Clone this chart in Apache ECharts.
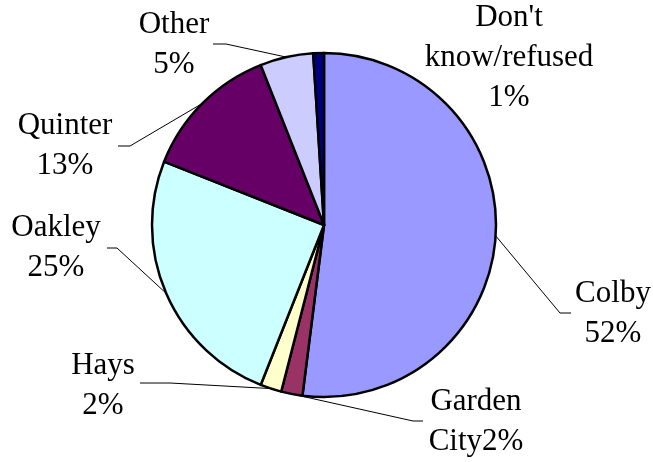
<!DOCTYPE html>
<html>
<head>
<meta charset="utf-8">
<script src="https://cdn.jsdelivr.net/npm/echarts@6/dist/echarts.min.js"></script>
<style>html,body{margin:0;padding:0;background:#fff;}#c{width:653px;height:462px;}</style>
</head>
<body>
<div id="c"></div>
<script>
var categories = ["Colby", "Garden City", "Hays", "Oakley", "Quinter", "Other", "Don't know/refused"];
var values = [52, 2, 2, 25, 13, 5, 1];
var labelLines = [["Colby"], ["Garden", "City"], ["Hays"], ["Oakley"], ["Quinter"], ["Other"], ["Don't", "know/refused"]];
var pctOnOwnLine = [true, false, true, true, true, true, true];
var colors = ["#9999FF", "#993366", "#FFFFCC", "#CCFFFF", "#660066", "#CCCCFF", "#000080"];

// label block centres and leader-line bend/end points (layout only)
var labelPos = [[613, 314], [476, 422], [103, 386], [56, 248], [65, 146], [174, 45], [509, 58]];
var linePts = [
  [[560, 313], [571, 313]],
  [[413, 421], [423, 421]],
  [[170, 383], [140, 383]],
  [[117, 248], [107, 248]],
  [[130, 146], [118, 146]],
  [[226, 44], [213, 44]],
  null
];

var serifStyle = {fontFamily: 'Liberation Serif', fontSize: 31, lineHeight: 40, color: '#000', fontWeight: 'normal', align: 'center'};

function labelText(i) {
  var lines = labelLines[i].slice();
  var pct = values[i] + '%';
  if (pctOnOwnLine[i]) lines.push(pct); else lines[lines.length - 1] += pct;
  return lines.map(function (s) { return '{s|' + s + '}'; }).join('\n');
}

var chart = echarts.init(document.getElementById('c'), null, {renderer: 'canvas'});
var data = categories.map(function (n, i) {
  return {
    name: n,
    value: values[i],
    itemStyle: {color: colors[i]},
    label: {formatter: labelText(i)},
    labelLine: {show: !!linePts[i]}
  };
});
chart.setOption({
  animation: false,
  backgroundColor: '#ffffff',
  textStyle: {fontFamily: 'Liberation Serif'},
  series: [{
    type: 'pie',
    center: [324, 225],
    radius: 172,
    startAngle: 90,
    clockwise: true,
    avoidLabelOverlap: false,
    data: data,
    itemStyle: {borderColor: '#000', borderWidth: 2.5},
    label: Object.assign({show: true, position: 'outside', rich: {s: serifStyle}}, serifStyle),
    labelLine: {show: true, length: 10, length2: 10, lineStyle: {color: '#000', width: 1}},
    emphasis: {disabled: true},
    labelLayout: function (params) {
      var i = params.dataIndex;
      var res = {x: labelPos[i][0], y: labelPos[i][1], align: 'center', verticalAlign: 'middle'};
      if (linePts[i] && params.labelLinePoints) {
        res.labelLinePoints = [params.labelLinePoints[0], linePts[i][0], linePts[i][1]];
      }
      return res;
    }
  }]
});
</script>
</body>
</html>
